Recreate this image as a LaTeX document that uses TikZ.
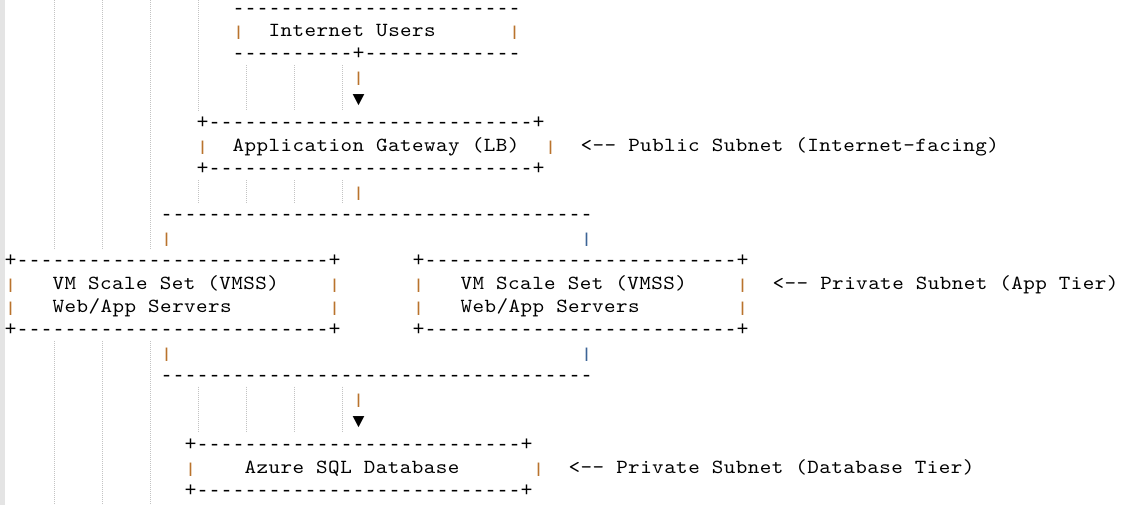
\documentclass[tikz,border=0pt]{standalone}
\usepackage{fontspec}
\usepackage{graphicx}
\setmonofont{lmmono10-regular.otf}[FakeStretch=1.1,LetterSpace=2.25]
\newfontfamily\boxfont{Liberation Mono}
\ExplSyntaxOn
\cs_new:Npn \asciirep #1#2 { \prg_replicate:nn {#1} {#2} }
\ExplSyntaxOff
\definecolor{barc}{RGB}{185,115,45}
\definecolor{barb}{RGB}{60,100,150}
\definecolor{guidec}{RGB}{195,195,195}
\definecolor{stripc}{RGB}{228,228,228}
\newcommand\vb{\scalebox{1}[0.72]{|}}
\tikzset{
  txt/.style={anchor=base west, inner sep=0pt, outer sep=0pt,
    font=\ttfamily\fontsize{20pt}{23pt}\selectfont, text=black},
  boxtxt/.style={txt, font=\boxfont\fontsize{20pt}{23pt}\selectfont},
  bar/.style={boxtxt, text=barc},
  barblue/.style={boxtxt, text=barb},
  guide/.style={draw=guidec, line width=1pt, dash pattern=on 1pt off 1pt},
}
% column c -> x of cell left edge ; row n -> baseline y (y axis points down)
\newcommand\ac[5]{\node[#1] (#2) at ({4.7+12*(#3)},{22.95*(#4)-8.9}) {#5};}
\begin{document}
\begin{tikzpicture}[x=1pt,y=-1pt]
\useasboundingbox (0,0) rectangle (1132,505);
\fill[stripc] (0,0) rectangle (5,505);
% indent guides
\foreach \c in {4,8,12}{
  \draw[guide] ({6.3+12*\c},0) -- ({6.3+12*\c},249.0);
  \draw[guide] ({6.3+12*\c},340.8) -- ({6.3+12*\c},505);
}
\draw[guide] ({6.3+12*16},0) -- ({6.3+12*16},111.3);
\foreach \c in {20,24,28}{
  \draw[guide] ({6.3+12*\c},65.4) -- ({6.3+12*\c},111.3);
}
\foreach \c in {16,20,24,28}{
  \draw[guide] ({6.3+12*\c},180.2) -- ({6.3+12*\c},203.1);
  \draw[guide] ({6.3+12*\c},386.7) -- ({6.3+12*\c},432.6);
}
% rows 1-3 : Internet Users
\ac{boxtxt}{usrtop}{19}{1}{\asciirep{24}{-}}
\ac{bar}{usrl}{19}{2}{\vb}
\ac{txt}{users}{22}{2}{Internet Users}
\ac{bar}{usrr}{42}{2}{\vb}
\ac{boxtxt}{usrbot}{19}{3}{\asciirep{10}{-}+\asciirep{13}{-}}
% rows 4-5 : arrow
\ac{bar}{c1}{29}{4}{\vb}
\ac{boxtxt}{a1}{29}{5}{▼}
% rows 6-8 : Application Gateway
\ac{boxtxt}{gwtop}{16}{6}{+\asciirep{27}{-}+}
\ac{bar}{gwl}{16}{7}{\vb}
\ac{txt}{gw}{19}{7}{Application Gateway (LB)}
\ac{bar}{gwr}{45}{7}{\vb}
\ac{txt}{pub}{48}{7}{<-- Public Subnet (Internet-facing)}
\ac{boxtxt}{gwbot}{16}{8}{+\asciirep{27}{-}+}
% rows 9-11 : split
\ac{bar}{c2}{29}{9}{\vb}
\ac{boxtxt}{split}{13}{10}{\asciirep{36}{-}}
\ac{bar}{c3}{13}{11}{\vb}
\ac{barblue}{c4}{48}{11}{\vb}
% rows 12-15 : VMSS boxes
\ac{boxtxt}{vatop}{0}{12}{+\asciirep{26}{-}+}
\ac{boxtxt}{vbtop}{34}{12}{+\asciirep{26}{-}+}
\ac{bar}{val1}{0}{13}{\vb}
\ac{txt}{vaa}{4}{13}{VM Scale Set (VMSS)}
\ac{bar}{var1}{27}{13}{\vb}
\ac{bar}{vbl1}{34}{13}{\vb}
\ac{txt}{vba}{38}{13}{VM Scale Set (VMSS)}
\ac{bar}{vbr1}{61}{13}{\vb}
\ac{txt}{appnote}{64}{13}{<-- Private Subnet (App Tier)}
\ac{bar}{val2}{0}{14}{\vb}
\ac{txt}{vab}{4}{14}{Web/App Servers}
\ac{bar}{var2}{27}{14}{\vb}
\ac{bar}{vbl2}{34}{14}{\vb}
\ac{txt}{vbb}{38}{14}{Web/App Servers}
\ac{bar}{vbr2}{61}{14}{\vb}
\ac{boxtxt}{vabot}{0}{15}{+\asciirep{26}{-}+}
\ac{boxtxt}{vbbot}{34}{15}{+\asciirep{26}{-}+}
% rows 16-19 : join and arrow
\ac{bar}{c5}{13}{16}{\vb}
\ac{barblue}{c6}{48}{16}{\vb}
\ac{boxtxt}{join}{13}{17}{\asciirep{36}{-}}
\ac{bar}{c7}{29}{18}{\vb}
\ac{boxtxt}{a2}{29}{19}{▼}
% rows 20-22 : Azure SQL Database
\ac{boxtxt}{dbtop}{15}{20}{+\asciirep{27}{-}+}
\ac{bar}{dbl}{15}{21}{\vb}
\ac{txt}{db}{20}{21}{Azure SQL Database}
\ac{bar}{dbr}{44}{21}{\vb}
\ac{txt}{dbnote}{47}{21}{<-- Private Subnet (Database Tier)}
\ac{boxtxt}{dbbot}{15}{22}{+\asciirep{27}{-}+}
\end{tikzpicture}
\end{document}
